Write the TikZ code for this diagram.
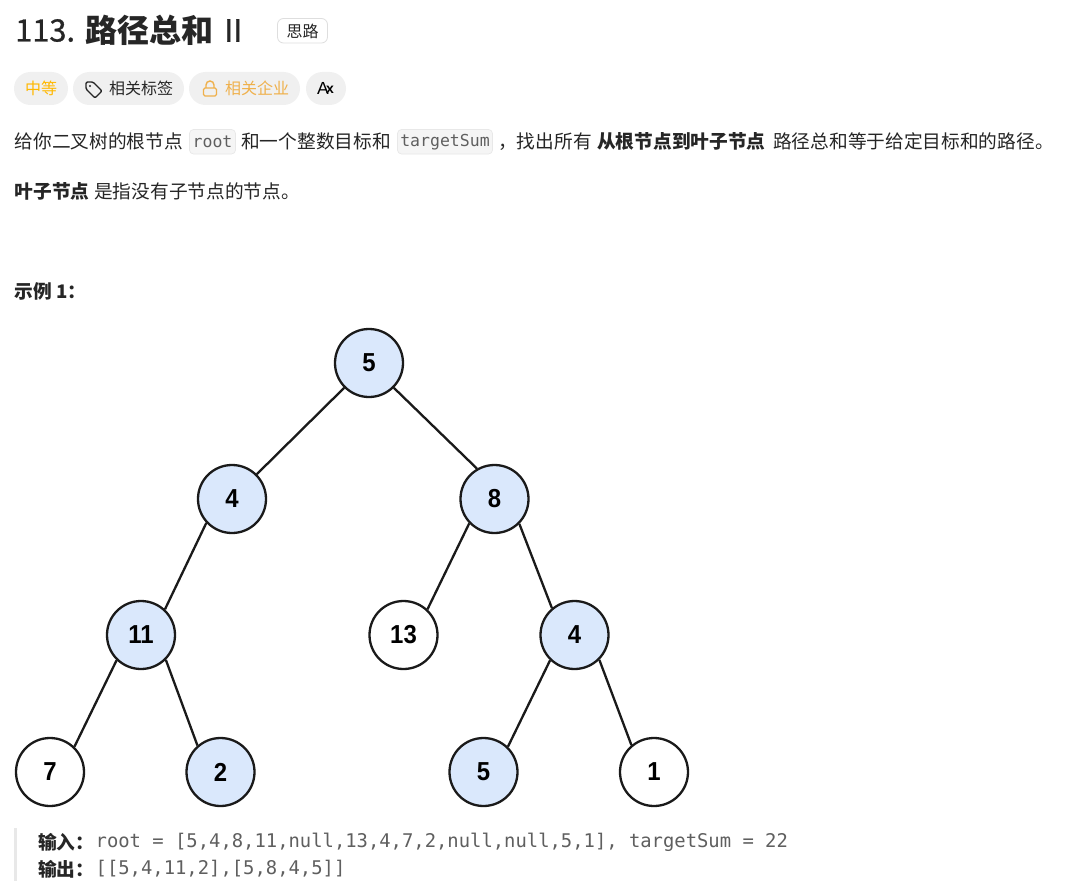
\documentclass[tikz,border=0pt]{standalone}
\usepackage{fontspec}
\setmainfont{Noto Sans CJK SC}
\setmonofont{DejaVu Sans Mono}
\newfontfamily\latinf[FakeBold=0.8]{Noto Sans CJK SC}
\newfontfamily\treef{Liberation Sans}
\newfontfamily\treeb[FakeStretch=0.92,BoldFont={Liberation Sans Bold}]{Liberation Sans}
\definecolor{inktext}{HTML}{262626}
\definecolor{pillbg}{HTML}{F0F0F0}
\definecolor{amber}{HTML}{FFB800}
\definecolor{lockc}{HTML}{EFB04B}
\definecolor{codebg}{HTML}{F5F5F5}
\definecolor{codeln}{HTML}{E8E8E8}
\definecolor{codetx}{HTML}{5F5F5F}
\definecolor{treeblue}{HTML}{DAE8FC}
\definecolor{treeln}{HTML}{1A1A1A}
\tikzset{
  x=1pt,y=-1pt,
  txt/.style={inner sep=0pt,anchor=west,text=inktext,font=\fontsize{18.7}{20}\selectfont},
  boldtxt/.style={txt,font=\fontsize{18.7}{20}\selectfont\bfseries},
  pill/.style={fill=pillbg,rounded corners=16.5pt},
  pilltxt/.style={inner sep=0pt,anchor=center,font=\fontsize{16}{18}\selectfont},
  codebox/.style={fill=codebg,draw=codeln,line width=.7pt,rounded corners=4pt},
  codetxt/.style={inner sep=0pt,anchor=center,text=codetx,font=\ttfamily\fontsize{16.5}{18}\selectfont},
  outtxt/.style={inner sep=0pt,anchor=west,text=codetx,font=\ttfamily\fontsize{18.85}{20}\selectfont},
  treenode/.style={circle,draw=treeln,line width=2.3pt,minimum size=68pt,inner sep=0pt,text=black,font=\treeb\bfseries\fontsize{26}{28}\selectfont},
  leafw/.style={treenode,fill=white},
  leafb/.style={treenode,fill=treeblue},
  edge/.style={draw=treeln,line width=2.3pt},
}
\begin{document}
\begin{tikzpicture}
\useasboundingbox (0,0) rectangle (1089,888);
\fill[white] (0,0) rectangle (1089,888);
% title
\node[inner sep=0pt,anchor=west,text=inktext,font=\latinf\fontsize{30.8}{32}\selectfont] (t1) at (15,30.5) {113.};
\node[inner sep=0pt,anchor=west,text=inktext,font=\fontsize{32}{34}\selectfont\bfseries] (t2) at (85,30.5) {路径总和};
\node[inner sep=0pt,anchor=west,text=inktext,font=\latinf\fontsize{30.8}{32}\selectfont] (t3) at (224,30.5) {II};
\draw[draw=codeln!90!gray,fill=white,line width=.8pt,rounded corners=6pt] (277.5,18.5) rectangle (327.5,43);
\node[pilltxt,text=inktext] (sl) at (302.5,31) {思路};
% pills
\path[pill] (14,72) rectangle (68,105);
\node[pilltxt,text=amber] (p1) at (41,88.5) {中等};
\path[pill] (73,72) rectangle (184,105);
\draw[inktext,line width=1.4pt,line join=round,rounded corners=1.3pt] (86,82) -- (93,82) -- (102,91) -- (95,98) -- (86,89) -- cycle;
\fill[inktext] (90,86) circle (1.1pt);
\node[pilltxt,text=inktext] (p2) at (141,88.5) {相关标签};
\path[pill] (189,72) rectangle (300,105);
\draw[lockc,line width=1.4pt,rounded corners=1.5pt] (203.5,88) rectangle (216.5,96);
\draw[lockc,line width=1.4pt] (206,88) -- (206,85) arc (180:360:4) -- (214,88);
\node[pilltxt,text=lockc] (p3) at (257,88.5) {相关企业};
\path[pill] (306,72) rectangle (346,105);
\node[pilltxt,text=black,font=\treef\fontsize{17.5}{18}\selectfont] (p4) at (323,88.5) {A};
\node[pilltxt,text=black,font=\treef\fontsize{14}{14}\selectfont\bfseries] (p5) at (330,90) {x};
% paragraph
\node[txt] (a1) at (14.5,141.5) {给你二叉树的根节点};
\draw[codebox] (189.5,129.5) rectangle (235.5,154);
\node[codetxt] (c1) at (212.5,142) {root};
\node[txt] (a2) at (241,141.5) {和一个整数目标和};
\draw[codebox] (397.5,129.5) rectangle (492.5,154);
\node[codetxt] (c2) at (445,142) {targetSum};
\node[txt] (a3) at (498,141.5) {，找出所有};
\node[boldtxt] (a4) at (597,141.5) {从根节点到叶子节点};
\node[txt] (a5) at (773,141.5) {路径总和等于给定目标和的路径。};
\node[boldtxt] (b1) at (14.5,191.5) {叶子节点};
\node[txt] (b2) at (94,191.5) {是指没有子节点的节点。};
\node[boldtxt] (ex) at (14.5,291) {示例 1：};
% tree
\node[leafb] (n5) at (369,363) {5};
\node[leafb] (n4) at (232,499) {4};
\node[leafb] (n8) at (494.5,499) {8};
\node[leafb] (n11) at (141,635) {11};
\node[leafw] (n13) at (403.5,635) {13};
\node[leafb] (n4b) at (574.5,635) {4};
\node[leafw] (n7) at (50,772) {7};
\node[leafb] (n2) at (220.5,772) {2};
\node[leafb] (n5b) at (483.5,772) {5};
\node[leafw] (n1) at (654,772) {1};
\path[edge] (n5.225) -- (n4.45);
\path[edge] (n5.-45) -- (n8.120);
\path[edge] (n4.223) -- (n11.47);
\path[edge] (n8.224) -- (n13.47);
\path[edge] (n8.-45) -- (n4b.130);
\path[edge] (n11.226) -- (n7.46);
\path[edge] (n11.-45) -- (n2.131);
\path[edge] (n4b.226) -- (n5b.46);
\path[edge] (n4b.-45) -- (n1.130);
% example block
\fill[codeln] (14,828) rectangle (16.5,881);
\node[boldtxt] (o1) at (38,842) {输入：};
\node[outtxt] (o2) at (95.5,842) {root = [5,4,8,11,null,13,4,7,2,null,null,5,1], targetSum = 22};
\node[boldtxt] (o3) at (38,869) {输出：};
\node[outtxt] (o4) at (95.5,869) {[[5,4,11,2],[5,8,4,5]]};
\end{tikzpicture}
\end{document}
